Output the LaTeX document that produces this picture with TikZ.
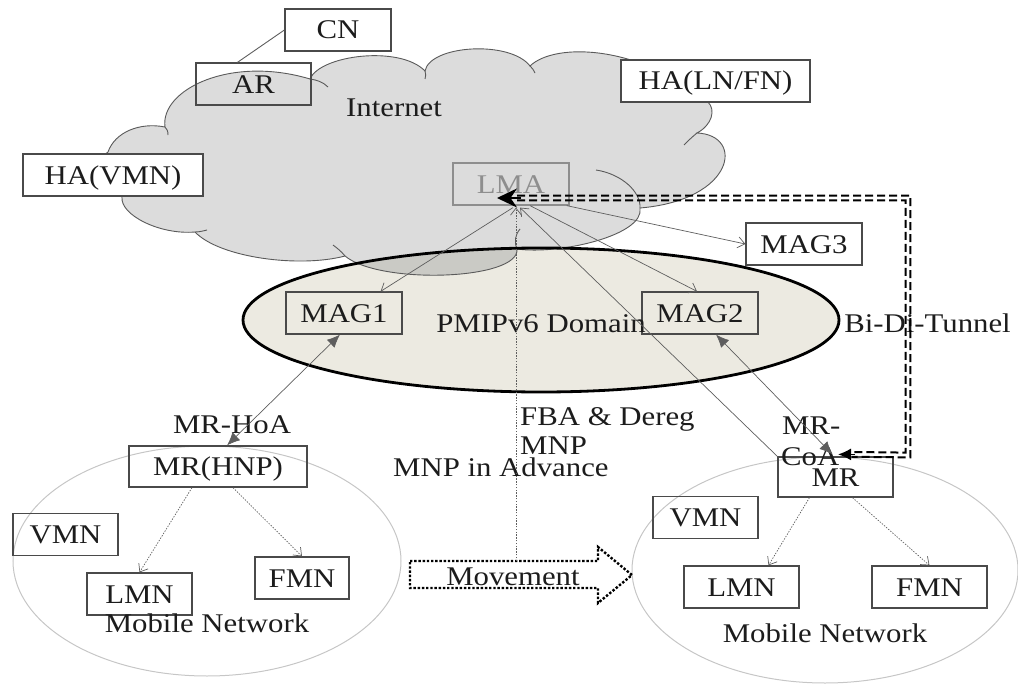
\documentclass[tikz,border=0pt]{standalone}
\usepackage{fontspec}
\setmainfont{Liberation Serif}[FakeStretch=1.14]
\usetikzlibrary{arrows.meta,calc}
\definecolor{cloudfill}{HTML}{DCDCDC}
\definecolor{cloudedge}{HTML}{5A5A5A}
\definecolor{domainfill}{HTML}{ECEAE1}
\definecolor{overlapfill}{HTML}{CACAC5}
\definecolor{boxedge}{HTML}{4A4A4A}
\definecolor{linkgray}{HTML}{5E5E5E}
\definecolor{netedge}{HTML}{C6C6C6}
\definecolor{lmagray}{HTML}{8E8E8E}
\definecolor{inkcol}{HTML}{1C1C1C}
\begin{document}
\begin{tikzpicture}[x=1pt,y=-1pt,
  every node/.style={font=\fontsize{27}{30}\selectfont, text=inkcol},
  lbl/.style={inner sep=0pt, text height=20pt, text depth=2pt},
  netbox/.style={draw=boxedge, line width=1.2pt, inner sep=0pt,
    text height=20pt, text depth=2pt, minimum height=42pt},
  link/.style={draw=linkgray, line width=0.7pt},
  opentip/.style={-{Straight Barb[length=7pt,width=11pt]}},
  solidtips/.style={{Latex[length=13pt,width=11pt]}-{Latex[length=13pt,width=11pt]}},
  dotlink/.style={draw=linkgray, line width=0.7pt, dash pattern=on 1.4pt off 1.4pt},
  tunnelline/.style={draw=black, line width=2pt, dash pattern=on 8pt off 4pt},
  movearrow/.style={draw=black, line width=2.4pt, dash pattern=on 2.4pt off 1.8pt},
  mnet/.style={draw=netedge, line width=1pt}]
\useasboundingbox (0,0) rectangle (1018,685);

% mobile networks
\draw[mnet] (207,561) ellipse [x radius=194pt, y radius=115pt];
\draw[mnet] (825,570) ellipse [x radius=193pt, y radius=113pt];

% PMIPv6 domain (fill)
\fill[domainfill] (541,320) ellipse [x radius=298pt, y radius=72pt];

% Internet cloud
\path[save path=\cloudp]
  (108,152) .. controls (115,132) and (140,122) .. (165,127)
  .. controls (160,90) and (230,55) .. (310,79)
  .. controls (320,55) and (400,45) .. (425,71)
  .. controls (430,45) and (510,40) .. (530,66)
  .. controls (555,42) and (640,45) .. (708,102)
  .. controls (716,110) and (712,125) .. (697,133)
  .. controls (745,135) and (735,200) .. (640,208)
  .. controls (645,235) and (560,255) .. (517,249)
  .. controls (520,280) and (380,285) .. (345,256)
  .. controls (300,268) and (220,258) .. (195,232)
  .. controls (160,235) and (120,215) .. (122,197)
  .. controls (100,185) and (95,160) .. (108,152) -- cycle;
\fill[cloudfill, use path=\cloudp];
\begin{scope}
  \clip (541,320) ellipse [x radius=298pt, y radius=72pt];
  \fill[overlapfill, use path=\cloudp];
\end{scope}
\draw[cloudedge, line width=0.9pt, use path=\cloudp];
\draw[cloudedge, line width=0.9pt]
  (165,127) .. controls (167,129) and (168,131) .. (168,135)
  (310,79) .. controls (317,80) and (323,82) .. (328,87)
  (425,71) .. controls (426,74) and (426,76) .. (425,79)
  (530,66) .. controls (532,68) and (534,70) .. (535,73)
  (697,133) .. controls (692,137) and (689,140) .. (684,145)
  (640,208) .. controls (641,192) and (622,174) .. (596,170)
  (517,249) .. controls (514,242) and (515,235) .. (520,229)
  (345,256) .. controls (341,251) and (337,248) .. (333,245)
  (195,232) .. controls (199,232) and (203,231) .. (207,230);

% PMIPv6 domain (outline)
\draw[black, line width=2.8pt] (541,320) ellipse [x radius=298pt, y radius=72pt];

% boxes
\node[netbox, fill=white, minimum width=106pt] (cn) at (338,30) {CN};
\node[netbox, minimum width=115pt] (ar) at (253.5,84) {AR};
\node[netbox, fill=white, minimum width=189pt] (haln) at (715.5,81) {HA(LN/FN)};
\node[netbox, fill=white, minimum width=180pt] (havmn) at (113,175) {HA(VMN)};
\node[netbox, draw=lmagray, text=lmagray, minimum width=116pt] (lma) at (511,184) {LMA};
\node[netbox, fill=white, minimum width=116pt] (mag3) at (804,244) {MAG3};
\node[netbox, minimum width=116pt] (mag1) at (344,313) {MAG1};
\node[netbox, minimum width=116pt] (mag2) at (700,313) {MAG2};
\node[netbox, minimum width=178pt, minimum height=41pt] (mrh) at (218,466.5) {MR(HNP)};
\node[netbox, minimum width=105pt] (vmnl) at (65.5,534.5) {VMN};
\node[netbox, minimum width=105pt] (lmnl) at (139.5,594) {LMN};
\node[netbox, minimum width=94pt] (fmnl) at (302,578) {FMN};
\node[netbox, minimum width=115pt, minimum height=40pt] (mr) at (835.5,477) {MR};
\node[netbox, minimum width=105pt] (vmnr) at (705.5,517.5) {VMN};
\node[netbox, minimum width=115pt] (lmnr) at (741.5,587) {LMN};
\node[netbox, minimum width=115pt] (fmnr) at (929.5,587) {FMN};

% labels
\node[lbl] (inet) at (394,107) {Internet};
\node[lbl] (pmip) at (541,323) {PMIPv6 Domain};
\node[lbl] (bidi) at (927.5,323) {Bi-Di-Tunnel};
\node[lbl] (hoa) at (232,424) {MR-HoA};
\node[lbl, anchor=west] (fba) at (520,416) {FBA \& Dereg};
\node[lbl, anchor=west] (mnp) at (520,445) {MNP};
\node[lbl, anchor=west] (adv) at (393,467) {MNP in Advance};
\node[lbl, anchor=west] (mrdash) at (782,425) {MR-};
\node[lbl, anchor=west] (coa) at (781,456) {CoA};
\node[lbl] (mnl) at (207,623) {Mobile Network};
\node[lbl] (mnr) at (825,633) {Mobile Network};

% movement arrow
\draw[movearrow] (410,561) -- (598,561) -- (598,547) -- (632,575) -- (598,603) -- (598,588) -- (410,588) -- cycle;
\node[lbl] (move) at (513,576) {Movement};
\coordinate (movetop) at (516,561);

% CN -- AR
\draw[link, line width=0.9pt] ($(ar.north west)+(42,0)$) -- (cn.west);

% LMA links
\draw[link, opentip] ($(lma.south)+(2,2)$) -- ($(mag1.north east)+(-22,0)$);
\draw[link, opentip] ($(lma.south)+(19,0)$) -- ($(mag2.north)+(-3,0)$);
\draw[link, opentip] ($(lma.south east)+(-3,0)$) -- (mag3.west);
\draw[link, opentip] (mr.north west) -- ($(lma.south)+(9,2)$);
\draw[dotlink, opentip] (movetop) -- ($(movetop |- lma.south)+(0,2)$);

% access links
\draw[link, solidtips] ($(mag1.south)+(-4,0)$) -- ($(mrh.north)+(9,0)$);
\draw[link, solidtips] ($(mag2.south)+(16,0)$) -- ($(mr.north)+(-3,-2)$);

% mobile network members
\draw[dotlink, opentip] ($(mrh.south)+(-26,0)$) -- (lmnl.north);
\draw[dotlink, opentip] ($(mrh.south)+(15,0)$) -- (fmnl.north);
\draw[dotlink, opentip] ($(mr.south)+(-26,0)$) -- ($(lmnr.north)+(27,0)$);
\draw[dotlink, opentip] ($(mr.south)+(17,0)$) -- (fmnr.north);

% bidirectional tunnel LMA <-> MR
\coordinate (tA) at ($(lma.center)+(-14,14)$);
\coordinate (tB) at (908,198);
\coordinate (tC) at (908,455);
\coordinate (tD) at ($(mr.north)+(2.5,-2)$);
\foreach \s/\t in {-2.4/2.4, 2.4/-2.4} {
  \draw[tunnelline] ($(tA)+(20,\s)$) -- ($(tB)+(\t,\s)$) -- ($(tC)+(\t,\t)$) -- ($(tD)+(14,\t)$);
}
\draw[black, line width=2.6pt, -{Stealth[length=20pt,width=19pt]}] ($(tA)+(24,0)$) -- (tA);
\draw[black, line width=1.6pt, -{Latex[length=13pt,width=12pt]}] ($(tD)+(17,0)$) -- (tD);
\end{tikzpicture}
\end{document}
